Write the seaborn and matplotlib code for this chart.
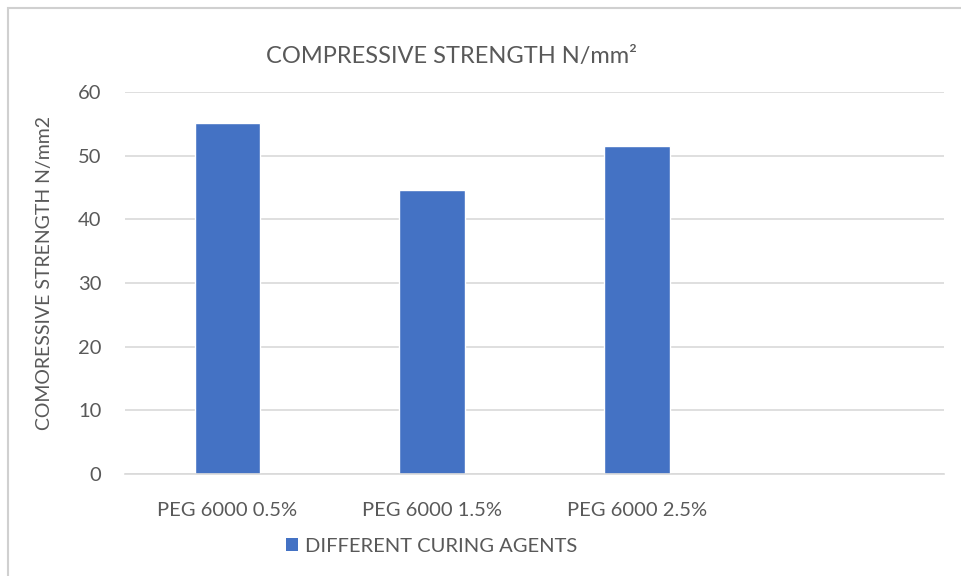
import matplotlib
matplotlib.use("Agg")
import matplotlib.pyplot as plt
import seaborn as sns
import pandas as pd
from matplotlib.patches import Rectangle, Patch

# data
categories = ["PEG 6000 0.5%", "PEG 6000 1.5%", "PEG 6000 2.5%"]
strength = [55.1, 44.6, 51.5]
series_name = "DIFFERENT CURING AGENTS"

df = pd.DataFrame({"agent": categories, "strength": strength})

sns.set_style("white")
plt.rcParams["font.family"] = ["Lato", "DejaVu Sans"]

bar_color = "#4472C4"
text_color = "#595959"
grid_color = "#D9D9D9"

fig = plt.figure(figsize=(9.61, 5.76), dpi=100)
ax = fig.add_axes([125 / 961, 1 - 474 / 576, (944 - 125) / 961, (474 - 92) / 576])

sns.barplot(data=df, x="agent", y="strength", color=bar_color, width=0.32,
            saturation=1, ax=ax)

# Excel leaves an empty fourth slot on the right
ax.set_xlim(-0.5, 3.5)
ax.set_ylim(0, 60)
ax.set_yticks(range(0, 61, 10))
ax.yaxis.grid(True, color=grid_color, linewidth=1.2)
ax.set_axisbelow(True)
for s in ["top", "right", "left"]:
    ax.spines[s].set_visible(False)
ax.spines["bottom"].set_color(grid_color)
ax.spines["bottom"].set_linewidth(1.2)
ax.tick_params(axis="both", length=0, labelsize=14.5, labelcolor=text_color)
ax.tick_params(axis="y", pad=17)
ax.tick_params(axis="x", pad=20)
ax.set_xlabel("")
ax.set_ylabel("")

fig.text(452 / 961, 1 - 57 / 576, "COMPRESSIVE STRENGTH N/mm²", ha="center", va="center",
         fontsize=17, color=text_color)
fig.text(45 / 961, 1 - 273 / 576, "COMORESSIVE STRENGTH N/mm2", ha="center", va="center",
         rotation=90, fontsize=14, color=text_color)

handle = Patch(facecolor=bar_color, edgecolor="none")
fig.legend([handle], [series_name], loc="center", bbox_to_anchor=(432 / 961, 1 - 546 / 576),
           frameon=False, fontsize=14.5, labelcolor=text_color,
           handlelength=0.6, handleheight=0.6, handletextpad=0.35)

# light chart-area border, cut off on the right and bottom like the screenshot
fig.patches.append(Rectangle((8 / 961, -0.05), 1.0, 1 - 8 / 576 + 0.05,
                             transform=fig.transFigure, fill=False,
                             edgecolor="#D0D0D0", linewidth=1.5))

fig.savefig("out.png", dpi=100, facecolor="white")
